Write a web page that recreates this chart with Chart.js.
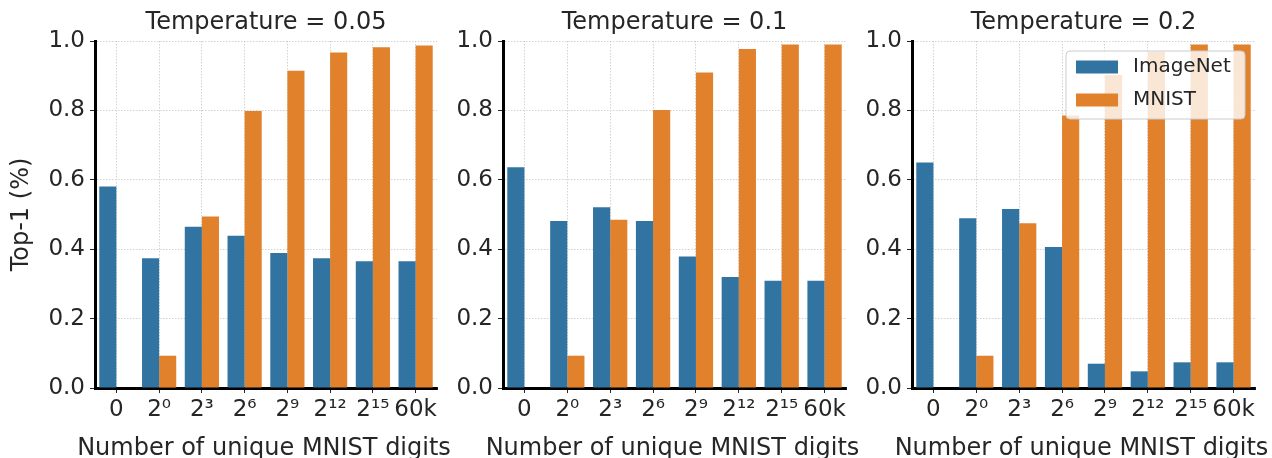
<!DOCTYPE html>
<html><head><meta charset="utf-8">
<script src="https://cdn.jsdelivr.net/npm/chart.js@4.4.1/dist/chart.umd.min.js"></script>
<style>
html,body{margin:0;padding:0;background:#fff;width:1272px;height:458px;overflow:hidden}
canvas{position:absolute;top:0}
</style></head><body>
<canvas id="c1" width="460" height="458" style="left:0px"></canvas>
<canvas id="c2" width="425" height="458" style="left:440px"></canvas>
<canvas id="c3" width="422" height="458" style="left:850px"></canvas>
<script>
const categories = ['0', '2\u2070', '2\u00B3', '2\u2076', '2\u2079', '2\u00B9\u00B2', '2\u00B9\u2075', '60k'];
const temperatures = ['0.05', '0.1', '0.2'];
const seriesNames = ['ImageNet', 'MNIST'];
const xAxisTitle = 'Number of unique MNIST digits';
const yAxisTitle = 'Top-1 (%)';
const yTicks = [0, 0.2, 0.4, 0.6, 0.8, 1.0];

const imagenetT005 = [0.581, 0.374, 0.465, 0.439, 0.389, 0.374, 0.365, 0.365];
const mnistT005    = [0,     0.093, 0.494, 0.798, 0.914, 0.967, 0.982, 0.987];
const imagenetT01  = [0.636, 0.481, 0.521, 0.481, 0.379, 0.320, 0.309, 0.309];
const mnistT01     = [0,     0.093, 0.485, 0.801, 0.909, 0.977, 0.990, 0.990];
const imagenetT02  = [0.650, 0.489, 0.516, 0.406, 0.070, 0.048, 0.074, 0.074];
const mnistT02     = [0,     0.093, 0.475, 0.785, 0.902, 0.969, 0.990, 0.990];

const BLUE = '#3274a1', ORANGE = '#e1812c', TEXT = '#262626';
const FONT = '"DejaVu Sans", sans-serif';

const legendBox = {
  id: 'legendBox',
  afterDatasetsDraw(chart) {
    const {ctx, chartArea} = chart;
    const w = 179, h = 68;
    const x = chartArea.right - 10 - w, y = chartArea.top + 10;
    ctx.save();
    ctx.beginPath();
    ctx.roundRect(x, y, w, h, 4);
    ctx.fillStyle = 'rgba(255,255,255,0.8)';
    ctx.fill();
    ctx.strokeStyle = '#cccccc';
    ctx.lineWidth = 1;
    ctx.stroke();
    ctx.font = '20px ' + FONT;
    ctx.textBaseline = 'middle';
    chart.data.datasets.forEach((ds, i) => {
      const cy = y + 16 + i * 33;
      ctx.fillStyle = ds.backgroundColor;
      ctx.fillRect(x + 10, cy - 6.5, 42, 13);
      ctx.fillStyle = TEXT;
      ctx.fillText(ds.label, x + 67, cy);
    });
    ctx.restore();
  }
};

// x-axis title drawn at full width (Chart.js would squeeze it to the axis width)
const xTitle = {
  id: 'xTitle',
  afterDraw(chart) {
    const {ctx, chartArea} = chart;
    ctx.save();
    ctx.font = '24px ' + FONT;
    ctx.fillStyle = TEXT;
    ctx.textAlign = 'center';
    ctx.textBaseline = 'middle';
    ctx.fillText(xAxisTitle, (chartArea.left + chartArea.right) / 2 - 2, chartArea.bottom + 61);
    ctx.restore();
  }
};

function makeChart(id, imagenet, mnist, temp, yWidth, padRight, showYTitle, withLegend) {
  return new Chart(document.getElementById(id), {
    type: 'bar',
    data: {
      labels: categories,
      datasets: [
        {label: seriesNames[0], data: imagenet, backgroundColor: BLUE, borderWidth: 0,
         categoryPercentage: 0.8, barPercentage: 1.0},
        {label: seriesNames[1], data: mnist, backgroundColor: ORANGE, borderWidth: 0,
         categoryPercentage: 0.8, barPercentage: 1.0}
      ]
    },
    options: {
      responsive: false,
      animation: false,
      layout: {padding: {left: 0, right: padRight, top: 0, bottom: 0}},
      plugins: {
        legend: {display: false},
        tooltip: {enabled: false},
        title: {
          display: true, text: 'Temperature = ' + temp, fullSize: false,
          color: TEXT, font: {family: FONT, size: 24, weight: 'normal', lineHeight: 1.2},
          padding: {top: 8, bottom: 4.2}
        }
      },
      scales: {
        x: {
          afterFit: s => { s.height = 70; },
          grid: {offset: false, color: '#c8c8c8', lineWidth: 0.8, drawTicks: true,
                 tickLength: 5, tickColor: TEXT, tickWidth: 1},
          border: {display: true, color: '#000', width: 3, dash: [1.5, 1.5]},
          ticks: {color: TEXT, font: {family: FONT, size: 23}, padding: 3,
                  autoSkip: false, maxRotation: 0, minRotation: 0},
          title: {display: false}
        },
        y: {
          min: 0, max: 1,
          afterFit: s => { s.width = yWidth; },
          afterBuildTicks: s => { s.ticks = yTicks.map(v => ({value: v})); },
          grid: {color: '#c8c8c8', lineWidth: 0.8, tickLength: 5, tickColor: TEXT, tickWidth: 1},
          border: {display: true, color: '#000', width: 3, dash: [1.5, 1.5]},
          ticks: {color: TEXT, font: {family: FONT, size: 23}, padding: 5,
                  callback: v => Number(v).toFixed(1)},
          title: {display: showYTitle, text: yAxisTitle, color: TEXT,
                  font: {family: FONT, size: 24}, padding: {top: 7, bottom: 0}}
        }
      }
    },
    plugins: withLegend ? [xTitle, legendBox] : [xTitle]
  });
}

makeChart('c1', imagenetT005, mnistT005, temperatures[0], 95, 23, true, false);
makeChart('c2', imagenetT01, mnistT01, temperatures[1], 63, 19, false, false);
makeChart('c3', imagenetT02, mnistT02, temperatures[2], 62, 17, false, true);
</script>
</body></html>
